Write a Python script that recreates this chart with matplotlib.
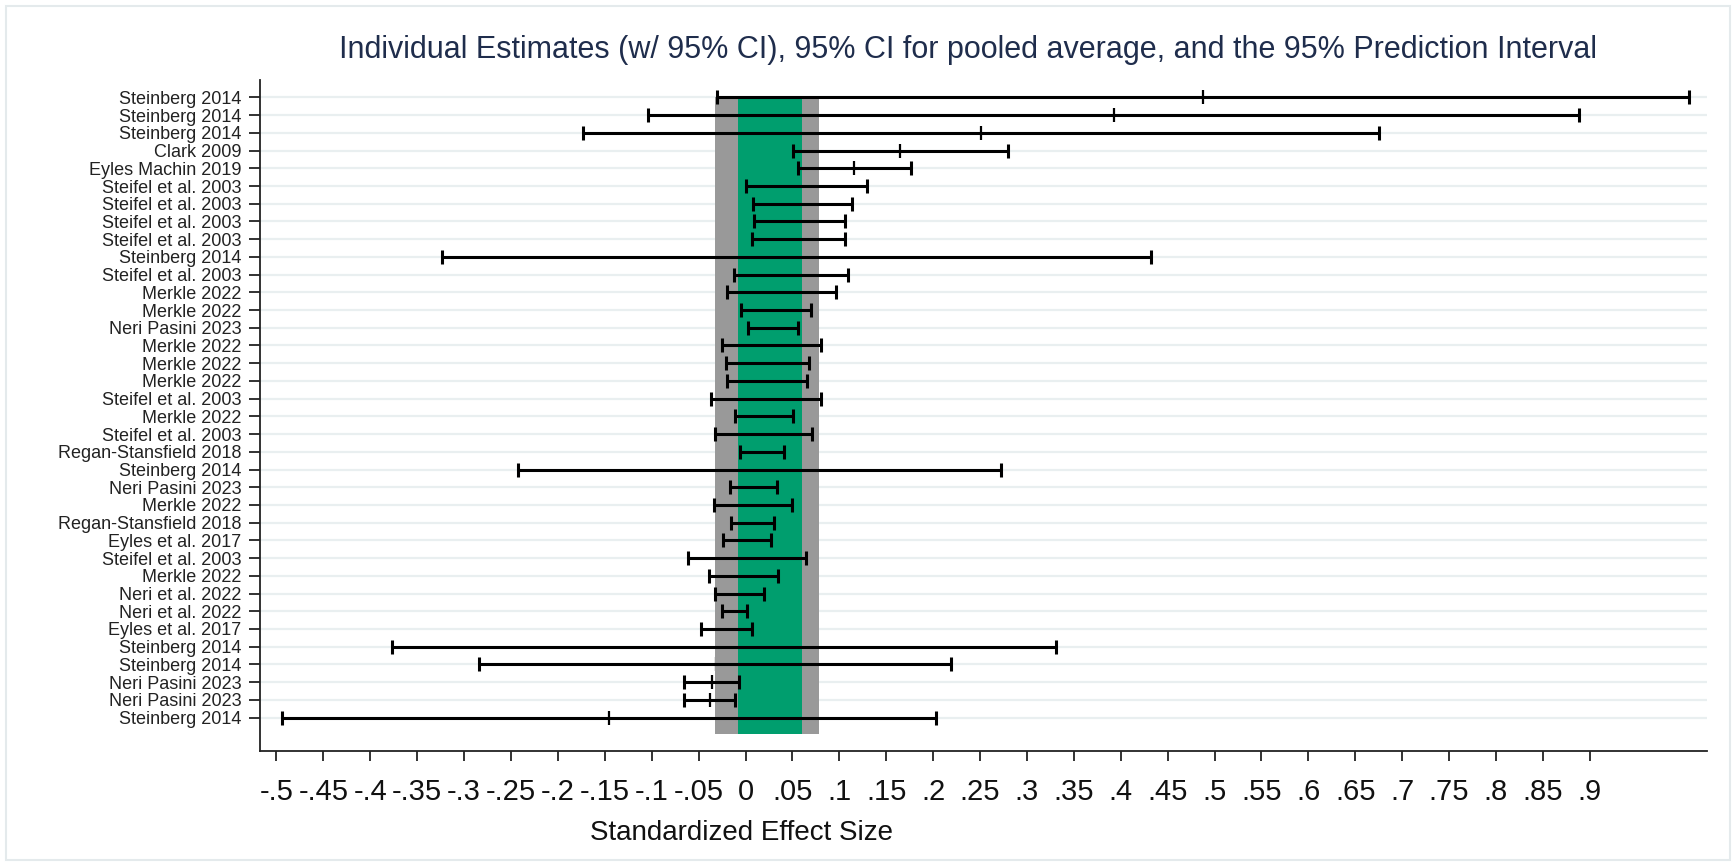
import matplotlib
matplotlib.use("Agg")
import matplotlib.pyplot as plt
import numpy as np
from matplotlib.patches import Rectangle
from matplotlib import font_manager

# studies, listed top to bottom
studies = [
    "Steinberg 2014", "Steinberg 2014", "Steinberg 2014", "Clark 2009",
    "Eyles Machin 2019", "Steifel et al. 2003", "Steifel et al. 2003",
    "Steifel et al. 2003", "Steifel et al. 2003", "Steinberg 2014",
    "Steifel et al. 2003", "Merkle 2022", "Merkle 2022", "Neri Pasini 2023",
    "Merkle 2022", "Merkle 2022", "Merkle 2022", "Steifel et al. 2003",
    "Merkle 2022", "Steifel et al. 2003", "Regan-Stansfield 2018",
    "Steinberg 2014", "Neri Pasini 2023", "Merkle 2022",
    "Regan-Stansfield 2018", "Eyles et al. 2017", "Steifel et al. 2003",
    "Merkle 2022", "Neri et al. 2022", "Neri et al. 2022", "Eyles et al. 2017",
    "Steinberg 2014", "Steinberg 2014", "Neri Pasini 2023", "Neri Pasini 2023",
    "Steinberg 2014",
]

# point estimates and 95% CI bounds
estimate = [
    0.488, 0.393, 0.251, 0.165, 0.116, 0.064, 0.061, 0.058, 0.056, 0.054,
    0.048, 0.039, 0.033, 0.030, 0.028, 0.024, 0.023, 0.022, 0.020, 0.019,
    0.018, 0.015, 0.009, 0.008, 0.008, 0.002, 0.002, -0.002, -0.006, -0.011,
    -0.020, -0.023, -0.031, -0.036, -0.038, -0.145,
]
ci_low = [
    -0.030, -0.104, -0.173, 0.051, 0.056, 0.000, 0.008, 0.009, 0.007, -0.324,
    -0.012, -0.020, -0.005, 0.003, -0.025, -0.021, -0.020, -0.037, -0.011,
    -0.032, -0.006, -0.243, -0.016, -0.034, -0.015, -0.024, -0.061, -0.039,
    -0.033, -0.025, -0.047, -0.377, -0.284, -0.066, -0.066, -0.494,
]
ci_high = [
    1.006, 0.889, 0.675, 0.280, 0.176, 0.129, 0.113, 0.106, 0.106, 0.432,
    0.109, 0.097, 0.070, 0.056, 0.081, 0.068, 0.066, 0.081, 0.051, 0.071,
    0.041, 0.272, 0.034, 0.050, 0.030, 0.027, 0.065, 0.035, 0.020, 0.002,
    0.007, 0.331, 0.219, -0.007, -0.011, 0.203,
]

# pooled average CI and prediction interval
pooled_ci = (-0.0075, 0.060)
pred_int = (-0.033, 0.078)

tick_values = np.round(np.arange(-0.5, 0.901, 0.05), 2)
tick_labels = [
    "-.5", "-.45", "-.4", "-.35", "-.3", "-.25", "-.2", "-.15", "-.1", "-.05",
    "0", ".05", ".1", ".15", ".2", ".25", ".3", ".35", ".4", ".45", ".5",
    ".55", ".6", ".65", ".7", ".75", ".8", ".85", ".9",
]

title = ("Individual Estimates (w/ 95% CI), 95% CI for pooled average, "
         "and the 95% Prediction Interval")

plt.rcParams["font.family"] = ["Liberation Sans", "DejaVu Sans"]

# narrow face for the axis numbers if it is around
installed = {f.name for f in font_manager.fontManager.ttflist}
if "Liberation Sans Narrow" in installed:
    tick_font, tick_size = "Liberation Sans Narrow", 24.5
else:
    tick_font, tick_size = "Liberation Sans", 21

W, H = 1736, 866
fig = plt.figure(figsize=(W / 100, H / 100), dpi=100)
fig.patch.set_facecolor("white")

# thin frame around the whole graph
fig.add_artist(Rectangle((6 / W, 6 / H), 1 - 12 / W, 1 - 12 / H,
                         transform=fig.transFigure, fill=False,
                         edgecolor="#e4eaec", linewidth=1.5))

left, right, top, bottom = 259.5, 1707, 79.7, 750.7
ax = fig.add_axes([left / W, 1 - bottom / H, (right - left) / W, (bottom - top) / H])

rows = np.arange(1, len(studies) + 1)

# estimates sit underneath the shaded intervals
ax.scatter(estimate, rows, marker="|", s=105, linewidths=1.6,
           color="black", zorder=1)

ax.fill_betweenx([1, 36.95], pred_int[0], pred_int[1],
                 color="#999999", linewidth=0, zorder=2)
ax.fill_betweenx([1, 36.95], pooled_ci[0], pooled_ci[1],
                 color="#009e6e", linewidth=0, zorder=2.1)

ax.hlines(rows, ci_low, ci_high, color="black", linewidth=2.2, zorder=3)
ax.scatter(ci_low, rows, marker="|", s=95, linewidths=2.2, color="black", zorder=3)
ax.scatter(ci_high, rows, marker="|", s=95, linewidths=2.2, color="black", zorder=3)

ax.set_xlim(-0.5181, 1.025)
ax.set_ylim(37.87, 0)

ax.set_yticks(rows)
ax.set_yticklabels(studies, fontsize=13, color="#222222")
ax.set_xticks(tick_values)
ax.set_xticklabels(tick_labels, fontsize=tick_size, family=tick_font,
                   color="#111111")

ax.grid(axis="y", color="#e9eff0", linewidth=1.6, zorder=0)
ax.set_axisbelow(True)

for side in ("top", "right"):
    ax.spines[side].set_visible(False)
for side in ("left", "bottom"):
    ax.spines[side].set_linewidth(1.3)
    ax.spines[side].set_color("#222222")

ax.tick_params(axis="y", length=8, width=1.3, pad=5.2, color="#222222")
ax.tick_params(axis="x", length=7.5, width=1.3, pad=12.5, color="#222222")

fig.text(968 / W, 1 - 50 / H, title, ha="center", va="center",
         fontsize=22, color="#1f2d4c")
fig.text(741 / W, 1 - 833 / H, "Standardized Effect Size", ha="center",
         va="center", fontsize=20, color="#111111")

fig.savefig("out.png", dpi=100, facecolor="white")
